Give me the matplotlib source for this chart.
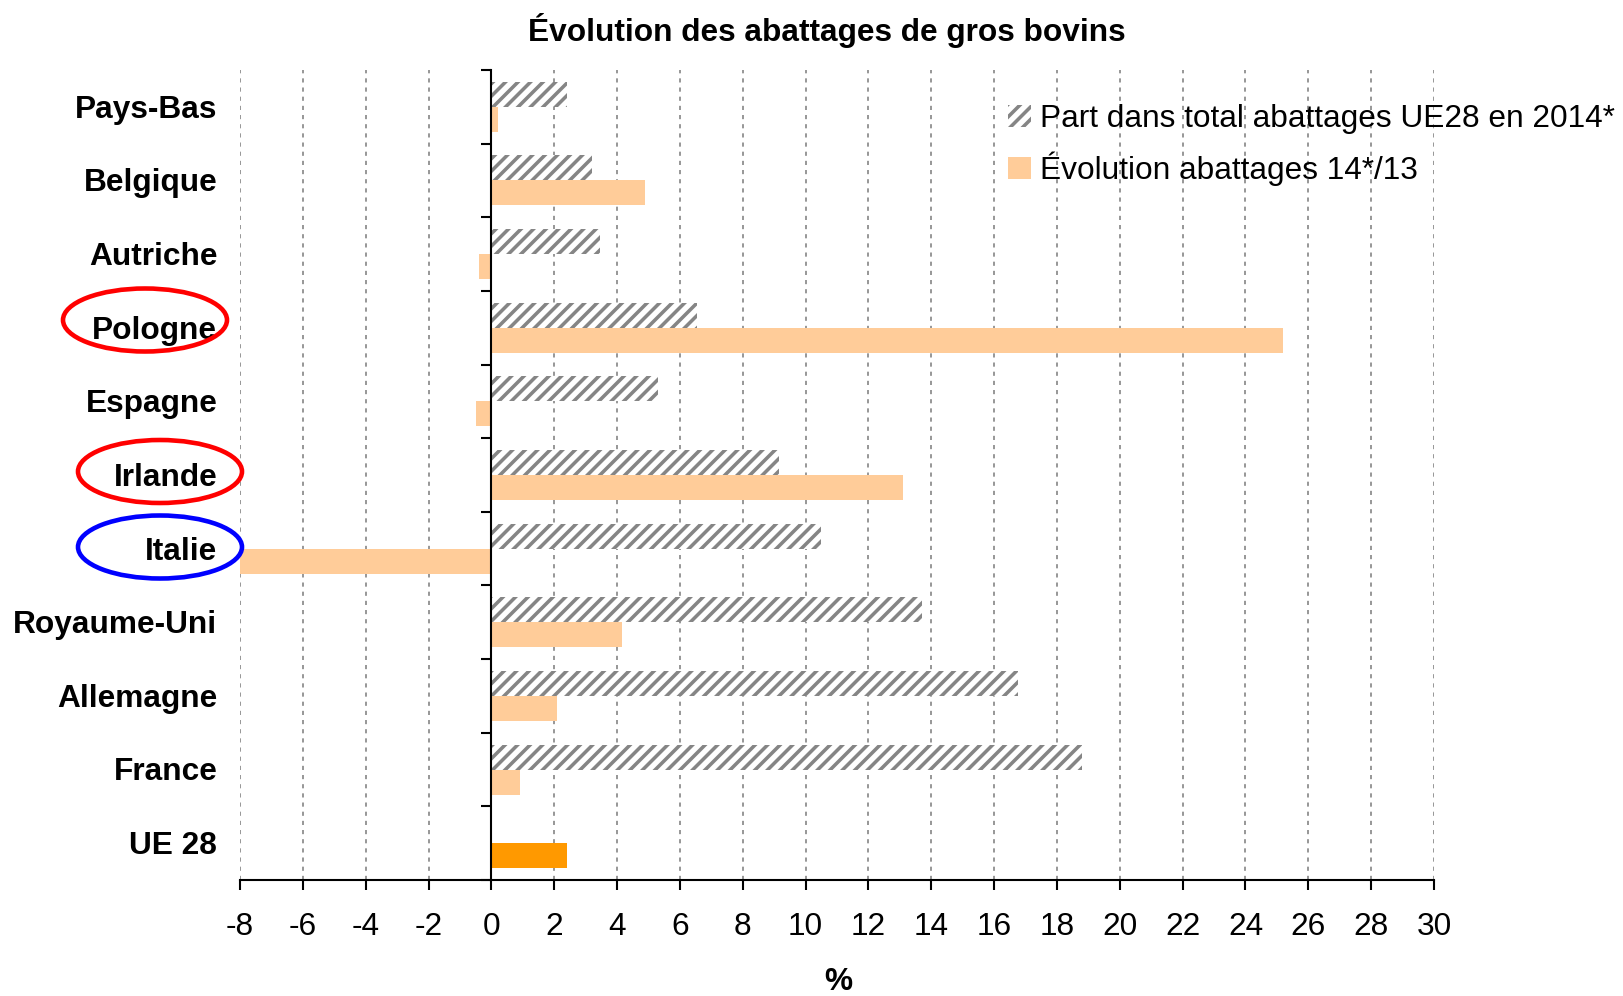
import numpy as np
import matplotlib.pyplot as plt
from matplotlib.patches import Patch, Ellipse
from matplotlib.transforms import blended_transform_factory

plt.rcParams['font.family'] = ['Liberation Sans', 'DejaVu Sans']
plt.rcParams['axes.unicode_minus'] = False
plt.rcParams['hatch.linewidth'] = 1.7

# Données (en %)
pays = ['Pays-Bas', 'Belgique', 'Autriche', 'Pologne', 'Espagne', 'Irlande',
        'Italie', 'Royaume-Uni', 'Allemagne', 'France', 'UE 28']
part_ue28 = [2.4, 3.2, 3.45, 6.55, 5.3, 9.15, 10.5, 13.7, 16.75, 18.8]  # pas de valeur pour UE 28
evol_14_13 = [0.2, 4.9, -0.4, 25.2, -0.5, 13.1, -8.0, 4.15, 2.1, 0.9, 2.4]
x_ticks = list(range(-8, 31, 2))
entourés = [('Pologne', 'red'), ('Irlande', 'red'), ('Italie', 'blue')]

GRIS = '#858585'
ORANGE_CLAIR = '#FFCC99'
ORANGE = '#FF9900'
FS = 15.2

W, H = 1623, 996
fig = plt.figure(figsize=(W / 150, H / 150), dpi=150)
ax = fig.add_axes([240 / W, 1 - 880 / H, (1434 - 240) / W, (880 - 70) / H])

y = np.arange(len(pays))
h = 0.34
ax.barh(y[:len(part_ue28)] - h / 2, part_ue28, height=h, color='white',
        edgecolor=GRIS, hatch='////', lw=0, zorder=2)
couleurs = [ORANGE_CLAIR] * (len(pays) - 1) + [ORANGE]
ax.barh(y + h / 2, evol_14_13, height=h, color=couleurs, lw=0, zorder=2)

ax.set_xlim(-8, 30)
ax.set_ylim(len(pays) - 0.5, -0.5)

# axe vertical placé sur le zéro, graduations entre les pays
ax.spines['top'].set_visible(False)
ax.spines['right'].set_visible(False)
ax.spines['left'].set_position(('data', 0))
for s in ['left', 'bottom']:
    ax.spines[s].set_linewidth(1.0)
ax.set_yticks([])
ax.set_yticks(np.arange(-0.5, len(pays), 1), minor=True)
ax.tick_params(axis='y', which='minor', length=4.8, width=1.0, direction='out')

ax.set_xticks(x_ticks)
ax.tick_params(axis='x', length=4.8, width=1.0, pad=10.5, labelsize=FS)

ax.grid(axis='x', color=GRIS, ls=(0, (2.5, 3)), lw=0.8)
ax.set_axisbelow(True)

# noms des pays à gauche de la zone de tracé
trans = blended_transform_factory(ax.transAxes, ax.transData)
for i, p in enumerate(pays):
    ax.text(-0.019, i + 0.04, p, transform=trans, ha='right', va='center',
            fontweight='bold', fontsize=FS)

# ellipses autour de certains pays
centres = {'Pologne': (145, 320), 'Irlande': (160, 471.5), 'Italie': (160, 547)}
for p, col in entourés:
    cx, cy = centres[p]
    fig.add_artist(Ellipse((cx / W, 1 - cy / H), 164 / W, 63 / H,
                           transform=fig.transFigure, fill=False, ec=col, lw=2.2))

fig.text(826.5 / W, 1 - 30 / H, 'Évolution des abattages de gros bovins',
         ha='center', va='center', fontweight='bold', fontsize=FS)
fig.text(838 / W, 1 - 982 / H, '%', ha='center', va='center',
         fontweight='bold', fontsize=FS)

poignees = [Patch(facecolor='white', edgecolor=GRIS, hatch='////', lw=0),
            Patch(facecolor=ORANGE_CLAIR, lw=0)]
fig.legend(poignees, ['Part dans total abattages UE28 en 2014*',
                      'Évolution abattages 14*/13'],
           loc='upper left', bbox_to_anchor=(1008 / W, 1 - 104 / H),
           frameon=False, fontsize=FS, handlelength=0.72, handleheight=0.72,
           handletextpad=0.28, labelspacing=0.55, borderpad=0, borderaxespad=0)

fig.savefig('out.png', dpi=150)
